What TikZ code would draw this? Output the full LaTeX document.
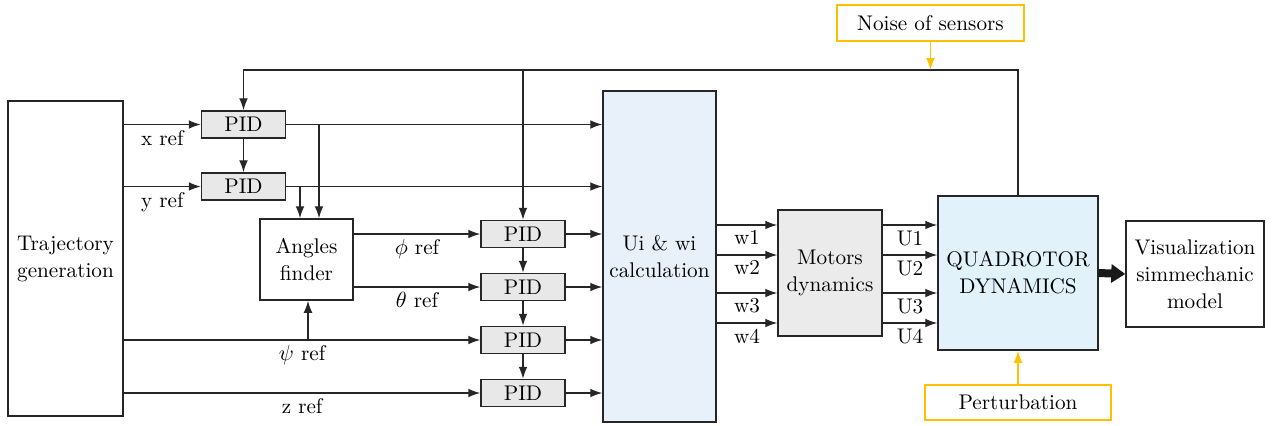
\documentclass[tikz,border=0pt]{standalone}
\usepackage{amsmath,amssymb}
\usepackage{tikz}
\usetikzlibrary{arrows.meta,positioning}
\definecolor{calcblue}{HTML}{E8F0FA}
\definecolor{quadblue}{HTML}{E1F2FB}
\definecolor{noiseorange}{HTML}{FFC000}

\begin{document}
\begin{tikzpicture}[
  x=0.5pt, y=-0.5pt,
  font=\fontsize{10.6}{13.5}\selectfont,
  block/.style={draw=black!85,line width=0.75pt,align=center,inner sep=0pt},
  pid/.style={block,fill=black!9,minimum width=42pt,minimum height=13.5pt},
  calc/.style={block,fill=calcblue,minimum width=56.5pt,minimum height=165.5pt},
  extern/.style={draw=noiseorange,line width=0.75pt,align=center,inner sep=0pt},
  lbl/.style={inner sep=2.5pt},
  arrow/.style={-{Latex[length=6pt,width=4.4pt]},line width=0.7pt,draw=black!85},
  warnarrow/.style={-{Latex[length=6pt,width=4.4pt]},line width=0.7pt,draw=noiseorange},
  fatarrow/.style={-{Triangle[length=7pt,width=9pt]},line width=4pt,draw=black!90}
]
\useasboundingbox (0,0) rectangle (1273,425);
\node[block,line width=1pt,minimum width=57.5pt,minimum height=157.5pt] (traj) at (65.5,258.5) {Trajectory\\generation};
\node[pid] (pidx) at (243.5,124.5) {PID};
\node[pid] (pidy) at (243.5,186.5) {PID};
\node[block,minimum width=46.5pt,minimum height=40.5pt] (angles) at (306.5,259.5) {Angles\\finder};
\node[pid] (pidphi) at (523,234) {PID};
\node[pid] (pidtheta) at (523,287) {PID};
\node[pid] (pidpsi) at (523,340) {PID};
\node[pid] (pidz) at (523,393) {PID};
\node[calc] (ui) at (659.5,256.5) {Ui \& wi\\calculation};
\node[block,fill=black!8,minimum width=52pt,minimum height=63pt] (motors) at (830,273) {Motors\\dynamics};
\node[block,fill=quadblue,minimum width=80pt,minimum height=77pt] (quad) at (1018,273) {QUADROTOR\\DYNAMICS};
\node[block,minimum width=69pt,minimum height=53pt] (vis) at (1195,274) {Visualization\\simmechanic\\model};
\node[extern,minimum width=93.5pt,minimum height=18pt] (noise) at (930.5,23) {Noise of sensors};
\node[extern,minimum width=93pt,minimum height=17.5pt] (pert) at (1018,402.5) {Perturbation};

% references from the trajectory
\draw[arrow] (traj.east |- pidx.west) -- node[lbl,below]{x ref} (pidx.west);
\draw[arrow] (traj.east |- pidy.west) -- node[lbl,below]{y ref} (pidy.west);
\draw[arrow] (traj.east |- pidpsi.west) -- node[lbl,below]{$\psi$ ref} (pidpsi.west);
\draw[arrow] (traj.east |- pidz.west) -- node[lbl,below]{z ref} (pidz.west);
\draw[arrow] (angles.east |- pidphi.west) -- node[lbl,below]{$\phi$ ref} (pidphi.west);
\draw[arrow] (angles.east |- pidtheta.west) -- node[lbl,below]{$\theta$ ref} (pidtheta.west);

% branches into the angles finder
\coordinate (bx) at (319,124.5);
\coordinate (by) at (300,186.5);
\coordinate (bpsi) at (308,340);
\draw[arrow] (bx) -- (bx |- angles.north);
\draw[arrow] (by) -- (by |- angles.north);
\draw[arrow] (bpsi) -- (bpsi |- angles.south);

% PID chain
\draw[arrow] (pidx.south) -- (pidy.north);
\draw[arrow] (pidphi.south) -- (pidtheta.north);
\draw[arrow] (pidtheta.south) -- (pidpsi.north);
\draw[arrow] (pidpsi.south) -- (pidz.north);

% PID outputs
\draw[arrow] (pidx.east) -- (pidx.east -| ui.west);
\draw[arrow] (pidy.east) -- (pidy.east -| ui.west);
\draw[arrow] (pidphi.east) -- (pidphi.east -| ui.west);
\draw[arrow] (pidtheta.east) -- (pidtheta.east -| ui.west);
\draw[arrow] (pidpsi.east) -- (pidpsi.east -| ui.west);
\draw[arrow] (pidz.east) -- (pidz.east -| ui.west);

% motor speeds and inputs
\draw[arrow] (ui.east |- 0,225) -- node[lbl,below]{w1} (motors.west |- 0,225);
\draw[arrow] (ui.east |- 0,255) -- node[lbl,below]{w2} (motors.west |- 0,255);
\draw[arrow] (ui.east |- 0,293) -- node[lbl,below]{w3} (motors.west |- 0,293);
\draw[arrow] (ui.east |- 0,323) -- node[lbl,below]{w4} (motors.west |- 0,323);
\draw[arrow] (motors.east |- 0,225) -- node[lbl,below]{U1} (quad.west |- 0,225);
\draw[arrow] (motors.east |- 0,255) -- node[lbl,below]{U2} (quad.west |- 0,255);
\draw[arrow] (motors.east |- 0,293) -- node[lbl,below]{U3} (quad.west |- 0,293);
\draw[arrow] (motors.east |- 0,323) -- node[lbl,below]{U4} (quad.west |- 0,323);

% feedback
\coordinate (fb) at (1018,70);
\draw[arrow] (quad.north) -- (fb) -| (pidx.north);
\draw[arrow] (pidphi.north |- fb) -- (pidphi.north);
\draw[warnarrow] (noise.south) -- (noise.south |- fb);
\draw[warnarrow] (pert.north) -- (quad.south);
\draw[fatarrow] (quad.east) -- (vis.west);
\end{tikzpicture}
\end{document}
